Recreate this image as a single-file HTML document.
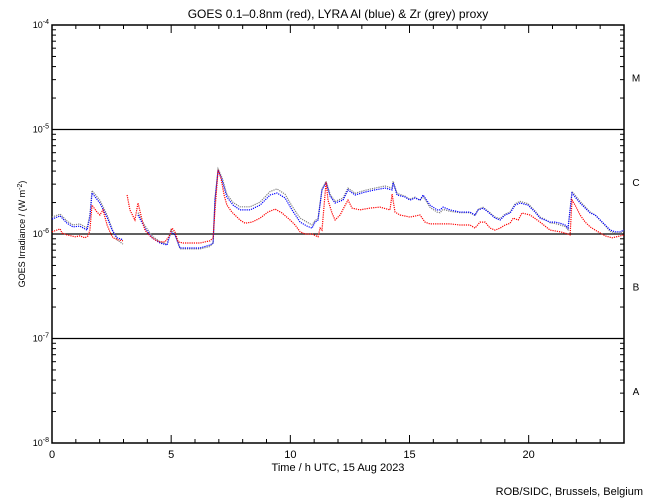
<!DOCTYPE html>
<html><head><meta charset="utf-8"><style>
body{margin:0;background:#fff}
svg{display:block;font-family:"Liberation Sans",sans-serif}
</style></head><body>
<svg id="c" width="650" height="500">
<text x="338" y="18" text-anchor="middle" font-size="12">GOES 0.1–0.8nm (red), LYRA Al (blue) &amp; Zr (grey) proxy</text>
<text x="338" y="471" text-anchor="middle" font-size="11">Time / h UTC, 15 Aug 2023</text>
<text transform="translate(25,234) rotate(-90)" text-anchor="middle" font-size="9">GOES Irradiance / (W m<tspan dy="-3" font-size="7">-2</tspan><tspan dy="3">)</tspan></text>
<text x="643" y="495" text-anchor="end" font-size="11">ROB/SIDC, Brussels, Belgium</text>
<g id="ax"></g>
<g id="series"></g>
</svg>
<script>
const hours=[0,.34,.63,.88,1.17,1.47,1.59,1.68,2.01,2.31,2.52,2.73,2.98,null,3.61,3.90,4.20,4.53,4.83,4.99,5.16,5.37,5.79,6.21,6.63,6.76,6.84,6.97,7.13,7.34,7.60,7.89,8.31,8.73,9.15,9.44,9.78,10.07,10.41,10.70,10.91,11.04,11.16,11.33,11.50,11.67,11.88,12.21,12.42,12.72,13.13,13.55,13.97,14.27,14.31,14.48,14.81,15.02,15.23,15.44,15.57,15.86,16.16,16.28,16.41,16.70,17.12,17.54,17.75,17.88,18.09,18.30,18.59,18.80,19.01,19.22,19.43,19.64,19.97,20.27,20.48,20.69,20.90,21.11,21.32,21.53,21.65,21.82,21.95,22.16,22.37,22.58,22.79,23.00,23.21,23.42,23.63,23.84,24];
const blueVals=[1.39,1.49,1.27,1.17,1.19,1.09,1.45,2.47,1.98,1.45,1.09,.92,.88,null,1.52,1.14,.92,.82,.785,1.05,.98,.735,.735,.735,.785,.82,2.11,4.1,3.3,2.26,1.89,1.70,1.70,1.89,2.36,2.47,2.21,1.70,1.30,1.19,1.14,1.30,1.36,2.64,3.1,2.3,1.98,2.11,2.64,2.36,2.52,2.64,2.75,2.64,3.1,2.36,2.26,2.11,2.21,2.11,2.36,1.89,1.70,1.70,1.81,1.70,1.62,1.62,1.52,1.70,1.77,1.62,1.42,1.36,1.52,1.59,1.89,1.98,1.89,1.62,1.42,1.36,1.30,1.30,1.27,1.22,1.14,2.47,2.26,1.98,1.77,1.59,1.52,1.36,1.22,1.09,1.05,1.05,1.09];
const greyVals=[1.45,1.55,1.33,1.22,1.25,1.14,1.52,2.6,2.1,1.52,1.12,.88,.8,null,1.6,1.2,.96,.84,.8,1.1,1.0,.72,.72,.72,.76,.82,2.2,4.2,3.5,2.4,2.0,1.82,1.82,2.02,2.55,2.7,2.4,1.85,1.42,1.3,1.22,1.35,1.4,2.7,3.2,2.4,2.05,2.2,2.75,2.45,2.62,2.75,2.88,2.75,3.2,2.45,2.3,2.15,2.25,2.1,2.3,1.8,1.62,1.6,1.72,1.65,1.6,1.6,1.5,1.72,1.8,1.65,1.45,1.4,1.55,1.62,1.95,2.05,1.95,1.66,1.45,1.38,1.28,1.26,1.22,1.18,1.1,2.55,2.35,2.05,1.82,1.62,1.52,1.35,1.2,1.06,1.02,1.02,1.08];
const redHours=[0,.34,.42,.63,.97,1.17,1.38,1.51,1.59,1.68,1.89,2.01,2.14,2.31,2.43,2.56,2.77,2.98,null,3.15,3.27,3.48,3.61,3.78,3.90,4.11,4.32,4.53,4.74,4.95,5.04,5.16,5.29,5.50,5.79,6.21,6.63,6.76,6.84,6.97,7.09,7.22,7.34,7.55,7.89,8.10,8.39,8.73,9.06,9.36,9.65,9.99,10.20,10.41,10.62,10.91,11.16,11.25,11.33,11.50,11.58,11.75,11.88,12.09,12.30,12.42,12.59,12.92,13.34,13.76,14.18,14.27,14.39,14.60,15.02,15.44,15.65,15.86,16.28,16.70,17.12,17.54,17.75,17.96,18.17,18.38,18.59,18.80,19.01,19.22,19.35,19.56,19.72,20.06,20.48,20.69,20.90,21.32,21.53,21.74,21.82,21.95,22.16,22.37,22.58,22.79,23.21,23.50,23.84,24];
const redVals=[1.05,1.12,1.02,.98,.94,.96,.92,.96,1.09,1.89,1.62,1.52,1.70,1.22,1.05,.92,.88,.86,null,2.36,1.70,1.36,1.98,1.36,1.09,.96,.88,.84,.84,.98,1.14,1.05,.84,.82,.82,.82,.86,.92,1.70,4.1,3.43,2.36,1.89,1.62,1.36,1.27,1.30,1.42,1.62,1.73,1.59,1.36,1.22,1.05,1,1,.94,1.14,1.09,3.15,2.11,1.59,1.36,1.52,1.89,2.11,1.77,1.70,1.77,1.81,1.70,2.41,1.62,1.52,1.45,1.52,1.30,1.25,1.25,1.25,1.22,1.22,1.14,1.30,1.30,1.14,1.09,1.14,1.22,1.27,1.42,1.36,1.59,1.52,1.30,1.19,1.09,1.05,1.02,.98,2.11,1.89,1.52,1.30,1.17,1.09,.96,.92,.96,.98];
const yTickLabels=["-8","-7","-6","-5","-4"];
const classLabels=["A","B","C","M"];
const xTickLabels=["0","5","10","15","20"];

const NS="http://www.w3.org/2000/svg";
const L=52,R=624,T=25,B=443;
const X=h=>L+(R-L)*h/24;
const Y=v=>B-(B-T)*(Math.log10(v)+8)/4;
function mk(t,a,p){const e=document.createElementNS(NS,t);for(const k in a)e.setAttribute(k,a[k]);p.appendChild(e);return e;}
const ax=document.getElementById('ax');
const fr=mk('rect',{x:L,y:T,width:R-L,height:B-T,fill:'none',stroke:'#000','stroke-width':1.5},ax);


for(let d=0;d<4;d++){for(let m=1;m<10;m++){const y=Y(m*Math.pow(10,d-8));const len=m==1?8:4;
 mk('line',{x1:L,x2:L+len,y1:y,y2:y,stroke:'#000'},ax);mk('line',{x1:R,x2:R-len,y1:y,y2:y,stroke:'#000'},ax);}}
yTickLabels.forEach((s,i)=>{const y=Y(Math.pow(10,+s));const t=mk('text',{x:L-3,y:y+3,'text-anchor':'end','font-size':9},ax);
 
 
 t.innerHTML='10<tspan dy="-4" font-size="7">'+s+'</tspan>';
 if(i>0&&i<4){const g=mk('line',{x1:L,x2:R,y1:y,y2:y,stroke:'#000','stroke-width':1.3},ax);
 
 }});
classLabels.forEach((s,i)=>{const t=mk('text',{x:636,y:(Y(Math.pow(10,i-8))+Y(Math.pow(10,i-7)))/2+4,'text-anchor':'middle','font-size':10},ax);
 
 
 t.textContent=s;});
for(let h=0;h<=24;h++){const x=X(h);const len=h%5==0?8:4;
 mk('line',{x1:x,x2:x,y1:B,y2:B-len,stroke:'#000'},ax);mk('line',{x1:x,x2:x,y1:T,y2:T+len,stroke:'#000'},ax);}
xTickLabels.forEach(s=>{const t=mk('text',{x:X(+s),y:458,'text-anchor':'middle','font-size':11},ax);
 
 
 t.textContent=s;});
const sg=document.getElementById('series');
function draw(hs,vs,col,name){let segs=[],cur=[];hs.forEach((h,i)=>{if(h===null||vs[i]===null){if(cur.length)segs.push(cur);cur=[];}else cur.push(X(h).toFixed(1)+','+Y(vs[i]*1e-6).toFixed(1));});if(cur.length)segs.push(cur);
 segs.forEach(s=>{const p=mk('polyline',{points:s.join(' '),fill:'none',stroke:col,'stroke-width':1.2,'stroke-dasharray':'1.2 1'},sg);
 
 });}
draw(hours,greyVals,'#808080','zr-grey-series');
draw(hours,blueVals,'#0000ff','al-blue-series');
draw(redHours,redVals,'#ff0000','goes-red-series');
</script>
</body></html>
